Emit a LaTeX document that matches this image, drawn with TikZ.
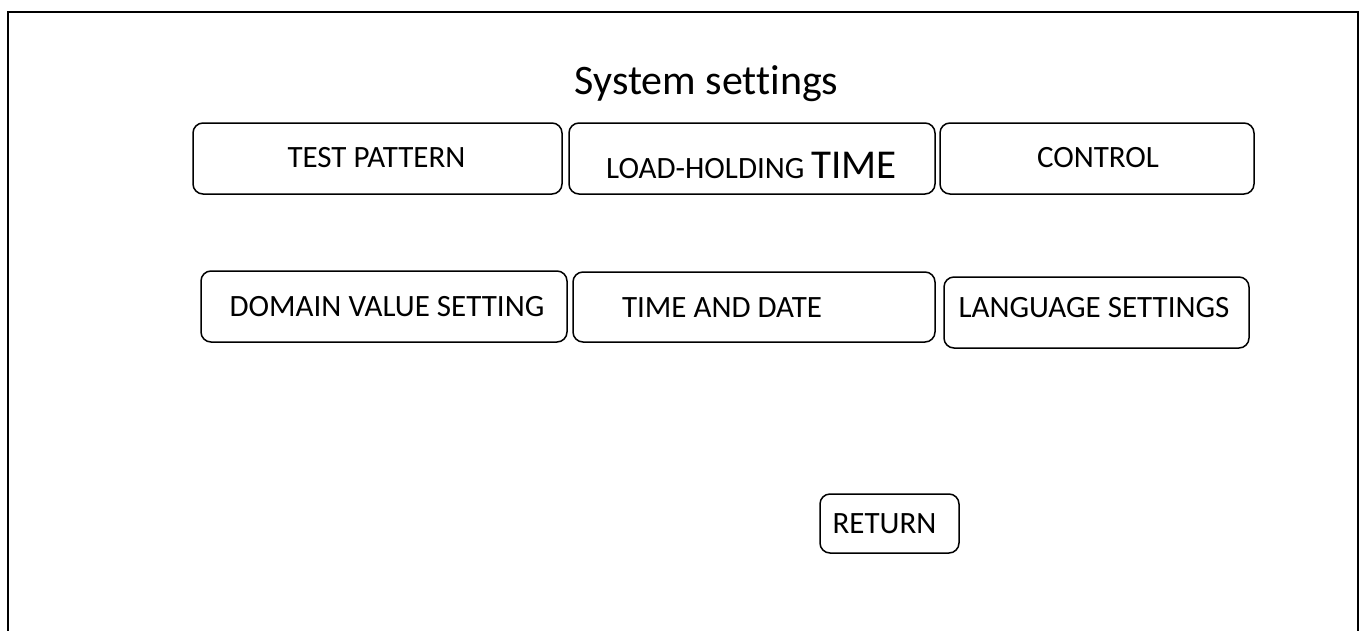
\documentclass[tikz,border=0pt]{standalone}
\usepackage{fontspec}
\setmainfont{Carlito}[Ligatures={NoCommon}]
\begin{document}
\begin{tikzpicture}[x=1pt,y=-1pt,
  btn/.style={draw=black, line width=1.5pt, rounded corners=10pt, inner sep=0pt},
  lbl/.style={anchor=base, inner sep=0pt, font=\fontsize{31}{37}\selectfont},
  frame/.style={draw=black, line width=2pt}]
\useasboundingbox (0,0) rectangle (1363,630);
% outer panel, open at the bottom
\coordinate (fbl) at (8,632);
\coordinate (ftl) at (8,12);
\coordinate (ftr) at (1358,12);
\coordinate (fbr) at (1358,632);
\draw[frame] (fbl) -- (ftl) -- (ftr) -- (fbr);
% heading
\node[anchor=base, inner sep=0pt, font=\fontsize{42}{50}\selectfont] (title) at (706.5,94) {System settings};
% buttons, first row
\node[btn, minimum width=369pt, minimum height=71pt] (tp) at (377.5,158.5) {};
\node[btn, minimum width=366pt, minimum height=71pt] (lht) at (752,158.5) {};
\node[btn, minimum width=314pt, minimum height=71pt] (ctl) at (1097,158.5) {};
% buttons, second row
\node[btn, minimum width=366pt, minimum height=71pt] (dvs) at (384,306.5) {};
\node[btn, minimum width=362pt, minimum height=70pt] (tad) at (754,307) {};
\node[btn, minimum width=305pt, minimum height=71pt] (lng) at (1096.5,312.5) {};
% return button
\node[btn, minimum width=139pt, minimum height=59pt] (ret) at (889.5,523.5) {};
% button captions
\node[lbl] (tpL) at (376.5,167.5) {TEST PATTERN};
\node[lbl] (lhtL) at (751.5,178.5) {LOAD-HOLDING {\fontsize{41}{48}\selectfont TIME}};
\node[lbl] (ctlL) at (1098,167.5) {CONTROL};
\node[lbl] (dvsL) at (387,316.5) {DOMAIN VALUE SETTING};
\node[lbl] (tadL) at (722,317.5) {TIME AND DATE};
\node[lbl] (lngL) at (1094,317.5) {LANGUAGE SETTINGS};
\node[lbl] (retL) at (884.5,533.5) {RETURN};
\end{tikzpicture}
\end{document}
